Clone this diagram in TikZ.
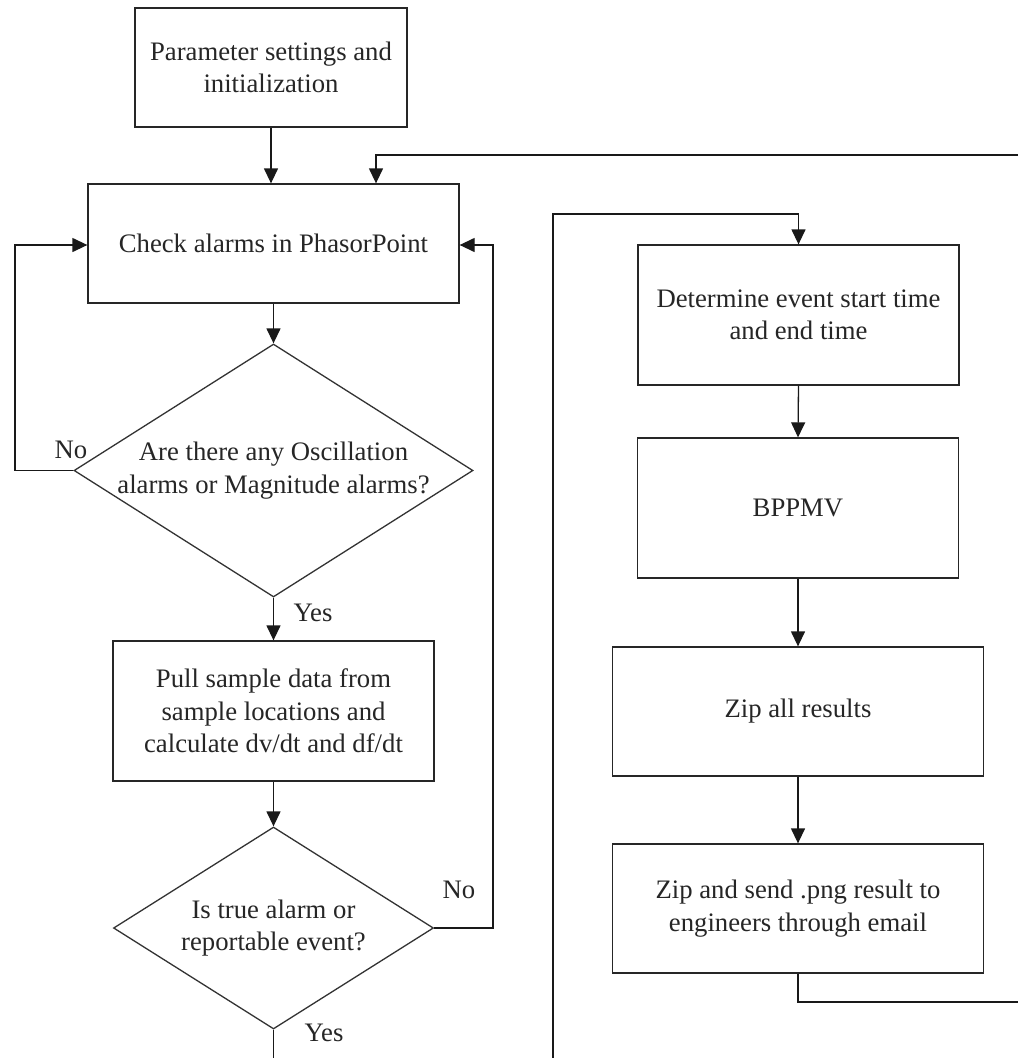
\documentclass[tikz,border=0pt]{standalone}
\usepackage{fontspec}
\setmainfont{Liberation Serif}
\usetikzlibrary{shapes.geometric,arrows.meta,calc}
\tikzset{
  box/.style={draw=black!85, line width=1.3pt, rectangle, inner sep=0pt, align=center},
  dia/.style={draw=black!80, line width=1.3pt, diamond, inner sep=0pt},
  arr/.style={draw=black!90, line width=1.3pt, -{Triangle[length=15pt,width=14pt]}},
  ln/.style={draw=black!90, line width=1.3pt},
  lbl/.style={inner sep=0pt, text=black!85},
}
\begin{document}
\begin{tikzpicture}[x=1pt,y=-1pt, font=\fontsize{26.7pt}{32.5pt}\selectfont, text=black!85]
\useasboundingbox (0,0) rectangle (1018,1058);
\fill[white] (0,0) rectangle (1018,1058);

% left column
\node[box, minimum width=272pt, minimum height=119pt] (b1) at (271,67.5) {Parameter settings and\\initialization};
\node[box, minimum width=371pt, minimum height=119pt] (b2) at (273.5,243.5) {Check alarms in PhasorPoint};
\node[dia, minimum width=399pt, minimum height=253pt,
  label={[align=center,lbl]center:Are there any Oscillation\\alarms or Magnitude alarms?}] (d1) at (273.5,470.5) {};
\node[box, minimum width=321pt, minimum height=140pt] (b3) at (273.5,711) {Pull sample data from\\sample locations and\\calculate dv/dt and df/dt};
\node[dia, minimum width=320pt, minimum height=202pt,
  label={[align=center,lbl]center:Is true alarm or\\reportable event?}] (d2) at (273.5,928) {};

% right column
\node[box, minimum width=321pt, minimum height=140pt] (b4) at (798.5,315) {Determine event start time\\and end time};
\node[box, minimum width=321pt, minimum height=140pt] (b5) at (798,508) {BPPMV};
\node[box, minimum width=371pt, minimum height=129pt] (b6) at (798,711.5) {Zip all results};
\node[box, minimum width=371pt, minimum height=129pt] (b7) at (798,908.5) {Zip and send .png result to\\engineers through email};

% labels
\node[lbl] (no1) at (71,450) {No};
\node[lbl] (yes1) at (313,613) {Yes};
\node[lbl] (no2) at (459,890) {No};
\node[lbl] (yes2) at (324,1033) {Yes};

% free ends
\coordinate (l1) at (15,245);
\coordinate (r1) at (493,245);
\coordinate (tr) at (1018,155);
\coordinate (t2) at (376,155);
\coordinate (bot1) at (273.5,1058);
\coordinate (bl) at (553,1058);
\coordinate (tl) at (553,214);
\coordinate (br) at (1018,1002);

% connectors
\draw[arr] (b1.south) -- (b1.south |- b2.north);
\draw[arr] (tr) -- (t2) -- (t2 |- b2.north);
\draw[arr] (b2.south) -- (d1.north);
\draw[arr] (d1.west) -| (l1) -- (b2.west |- l1);
\draw[arr] (d1.south) -- (b3.north);
\draw[arr] (b3.south) -- (d2.north);
\draw[arr] (d2.east) -| (r1) -- (b2.east |- r1);
\draw[ln] (d2.south) -- (bot1);

\draw[arr] (bl) -- (tl) -- (tl -| b4.north) -- (b4.north);
\draw[arr] (b4.south) -- (b5.north);
\draw[arr] (b5.south) -- (b6.north);
\draw[arr] (b6.south) -- (b7.north);
\draw[ln] (b7.south) |- (br);
\end{tikzpicture}
\end{document}
